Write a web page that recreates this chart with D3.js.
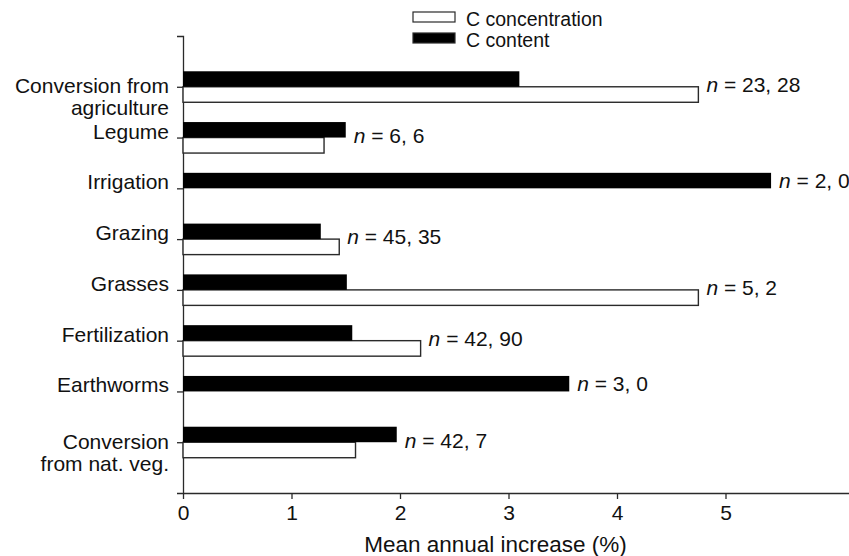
<!DOCTYPE html>
<html>
  <head>
    <meta charset="utf-8">
    <title>Mean annual increase</title>
    <script src="https://cdn.jsdelivr.net/npm/d3@7"></script>
    <style>
      body { margin: 0; background: #fff; }
      svg { font-family: "Liberation Sans", Arial, sans-serif; }
      .axis path, .axis line { stroke: #2a2a2a; stroke-width: 1.3; }
      .axis text { font-size: 21px; fill: #111; }
      .catLabel, .nLabel { font-size: 21px; fill: #111; }
      .legendText { font-size: 19.5px; fill: #111; }
    </style>
  </head>
  <body>
    <svg id="chart" width="849" height="556"></svg>

    <script>
      // data
      categories = ["Conversion from agriculture", "Legume", "Irrigation", "Grazing",
        "Grasses", "Fertilization", "Earthworms", "Conversion from nat. veg."];
      labelLines = [["Conversion from", "agriculture"], ["Legume"], ["Irrigation"], ["Grazing"],
        ["Grasses"], ["Fertilization"], ["Earthworms"], ["Conversion", "from nat. veg."]];
      contentValues = [3.10, 1.50, 5.42, 1.27, 1.51, 1.56, 3.56, 1.97];
      concentrationValues = [4.75, 1.30, null, 1.44, 4.75, 2.19, null, 1.59];
      sampleSizes = ["23, 28", "6, 6", "2, 0", "45, 35", "5, 2", "42, 90", "3, 0", "42, 7"];
      xTicks = [0, 1, 2, 3, 4, 5];

      chart = d3.select("#chart");
      barHeight = 15.5;

      x = d3.scaleLinear()
        .domain([0, 6.2])
        .range([183, 183 + 6.2 * 108.5]);
      y = d3.scalePoint()
        .domain(categories)
        .range([36, 493])
        .padding(1);

      // axes
      chart.append("g")
        .attr("class", "axis")
        .attr("transform", "translate(0, 493)")
        .call(d3.axisBottom(x)
          .tickValues(xTicks)
          .tickFormat(d3.format("d"))
          .tickSize(6)
          .tickSizeOuter(0)
          .tickPadding(6));

      chart.append("g")
        .attr("class", "axis")
        .attr("transform", "translate(183, 0)")
        .call(d3.axisLeft(y)
          .tickSize(6)
          .tickFormat(""));

      chart.append("text")
        .attr("x", x(2.88))
        .attr("y", 552)
        .attr("text-anchor", "middle")
        .style("font-size", "22.5px")
        .style("fill", "#111")
        .text("Mean annual increase (%)");

      // category labels: single lines sit on the tick, two-line labels start centred on it
      chart.selectAll(".catLabel")
          .data(categories)
        .enter().append("text")
          .attr("class", "catLabel")
          .attr("text-anchor", "end")
          .attr("x", 169)
          .attr("y", function(d) { return y(d); })
          .each(function(d, i) {
            lines = labelLines[i];
            d3.select(this).selectAll("tspan")
                .data(lines)
              .enter().append("tspan")
                .attr("x", 169)
                .attr("dy", function(t, j) {
                  return j > 0 ? "1.06em" : (lines.length > 1 ? "0.3em" : "0.05em");
                })
                .text(function(t) { return t; });
          });

      // bars
      rows = categories.map(function(c, i) {
        return { cat: c, content: contentValues[i], conc: concentrationValues[i], n: sampleSizes[i] };
      });

      chart.selectAll(".concBar")
          .data(rows.filter(function(d) { return d.conc != null; }))
        .enter().append("rect")
          .attr("class", "concBar")
          .attr("x", x(0))
          .attr("y", function(d) { return y(d.cat); })
          .attr("width", function(d) { return x(d.conc) - x(0); })
          .attr("height", barHeight)
          .attr("fill", "#fff")
          .attr("stroke", "#2a2a2a")
          .attr("stroke-width", 1.4);

      chart.selectAll(".contentBar")
          .data(rows)
        .enter().append("rect")
          .attr("class", "contentBar")
          .attr("x", x(0))
          .attr("y", function(d) { return y(d.cat) - barHeight; })
          .attr("width", function(d) { return x(d.content) - x(0); })
          .attr("height", barHeight)
          .attr("fill", "#000");

      // sample size labels
      nLabels = chart.selectAll(".nLabel")
          .data(rows)
        .enter().append("text")
          .attr("class", "nLabel")
          .attr("x", function(d) { return x(Math.max(d.content, d.conc || 0)) + 8; })
          .attr("y", function(d) { return d.conc == null ? y(d.cat) - barHeight / 2 : y(d.cat) - 2; })
          .attr("dy", "0.35em");
      nLabels.append("tspan")
        .style("font-style", "italic")
        .text("n");
      nLabels.append("tspan")
        .text(function(d) { return " = " + d.n; });

      // legend
      legendItems = [
        { name: "C concentration", fill: "#fff", baseline: 25.5 },
        { name: "C content", fill: "#000", baseline: 46.5 }
      ];
      legend = chart.selectAll(".legendItem")
          .data(legendItems)
        .enter().append("g")
          .attr("class", "legendItem");
      legend.append("rect")
        .attr("x", 413)
        .attr("y", function(d) { return d.baseline - 13.5; })
        .attr("width", 42)
        .attr("height", 10)
        .attr("fill", function(d) { return d.fill; })
        .attr("stroke", "#2a2a2a")
        .attr("stroke-width", 1.2);
      legend.append("text")
        .attr("class", "legendText")
        .attr("x", 466)
        .attr("y", function(d) { return d.baseline; })
        .text(function(d) { return d.name; });
    </script>
  </body>
</html>
